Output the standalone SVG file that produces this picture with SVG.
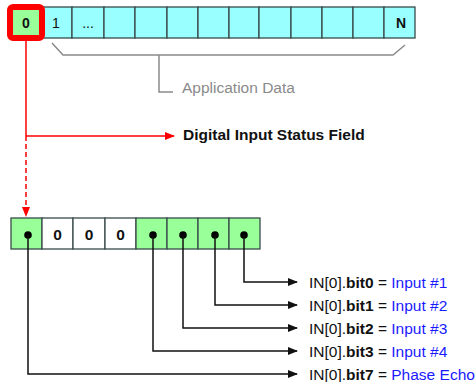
<svg xmlns="http://www.w3.org/2000/svg" width="475" height="382" viewBox="0 0 475 382">
<style>
.cell{stroke:#3a4a4a;stroke-width:1.3}
.cy{fill:#99ffff}
.gr{fill:#99ff99}
.wh{fill:#ffffff}
.t{font-family:"Liberation Sans",Arial,sans-serif;font-size:15.5px;fill:#111}
.s{font-size:14px}
.b{font-weight:bold}
.blue{fill:#1a1aff}
.wire{fill:none;stroke:#111;stroke-width:1.5}
.red{fill:none;stroke:#ff0000;stroke-width:1.5}
.grey{fill:none;stroke:#8a8a8a;stroke-width:1.5}
</style>
<defs>
<marker id="ab" markerWidth="10" markerHeight="8" refX="9" refY="4" orient="auto" markerUnits="userSpaceOnUse">
<path d="M0,0 L10,4 L0,8 Z" fill="#111"/>
</marker>
<marker id="ar" markerWidth="10" markerHeight="8" refX="9" refY="4" orient="auto" markerUnits="userSpaceOnUse">
<path d="M0,0 L10,4 L0,8 Z" fill="#ff0000"/>
</marker>
</defs>

<g id="app-data-row">
<rect class="cell cy" x="41" y="7" width="31" height="31"/>
<rect class="cell cy" x="72" y="7" width="32" height="31"/>
<rect class="cell cy" x="104" y="7" width="31" height="31"/>
<rect class="cell cy" x="135" y="7" width="32" height="31"/>
<rect class="cell cy" x="167" y="7" width="31" height="31"/>
<rect class="cell cy" x="198" y="7" width="31" height="31"/>
<rect class="cell cy" x="229" y="7" width="30" height="31"/>
<rect class="cell cy" x="259" y="7" width="32" height="31"/>
<rect class="cell cy" x="291" y="7" width="31" height="31"/>
<rect class="cell cy" x="322" y="7" width="31" height="31"/>
<rect class="cell cy" x="353" y="7" width="31" height="31"/>
<rect class="cell cy" x="384" y="7" width="31" height="31"/>
<text class="t s" x="56" y="28" text-anchor="middle">1</text>
<text class="t s" x="88" y="28" text-anchor="middle">...</text>
<text class="t s b" x="401" y="28" text-anchor="middle">N</text>
</g>

<g id="byte0">
<rect class="cell gr" x="10" y="7" width="31" height="31"/>
<rect x="10" y="7" width="32" height="31" rx="3" fill="none" stroke="#ff0000" stroke-width="6"/>
<text class="t s b" x="26" y="28" text-anchor="middle">0</text>
</g>

<g id="app-data-label">
<path class="grey" d="M52,43 L63,55 L393,55 L405,45"/>
<path class="grey" d="M159,55 L159,92 L173,92"/>
<text class="t" x="182" y="93" style="fill:#8a8a8a">Application Data</text>
</g>

<g id="status-label">
<text class="t b" x="183" y="140">Digital Input Status Field</text>
</g>

<g id="status-byte">
<rect class="cell gr" x="11" y="218" width="31" height="31"/>
<rect class="cell wh" x="42" y="218" width="31" height="31"/>
<rect class="cell wh" x="73" y="218" width="32" height="31"/>
<rect class="cell wh" x="105" y="218" width="31" height="31"/>
<rect class="cell gr" x="136" y="218" width="31" height="31"/>
<rect class="cell gr" x="167" y="218" width="31" height="31"/>
<rect class="cell gr" x="198" y="218" width="31" height="31"/>
<rect class="cell gr" x="229" y="218" width="31" height="31"/>
<text class="t b" x="57.5" y="239.5" text-anchor="middle">0</text>
<text class="t b" x="89" y="239.5" text-anchor="middle">0</text>
<text class="t b" x="120.5" y="239.5" text-anchor="middle">0</text>
<circle cx="28" cy="235" r="3.8" fill="#000"/>
<circle cx="153" cy="235" r="3.8" fill="#000"/>
<circle cx="183" cy="235" r="3.8" fill="#000"/>
<circle cx="215" cy="235" r="3.8" fill="#000"/>
<circle cx="244" cy="235" r="3.8" fill="#000"/>
</g>

<g id="connectors">
<path class="red" d="M26,41 L26,136"/>
<path class="red" d="M26,136 L174,136" marker-end="url(#ar)"/>
<path class="red" d="M26,136 L26,216" stroke-dasharray="5,3" marker-end="url(#ar)"/>
<path class="wire" d="M244,235 L244,282 L297,282" marker-end="url(#ab)"/>
<path class="wire" d="M215,235 L215,305 L297,305" marker-end="url(#ab)"/>
<path class="wire" d="M183,235 L183,328 L297,328" marker-end="url(#ab)"/>
<path class="wire" d="M153,235 L153,351 L297,351" marker-end="url(#ab)"/>
<path class="wire" d="M28,235 L28,374 L297,374" marker-end="url(#ab)"/>
</g>

<g id="bit-labels">
<text class="t" x="309" y="288">IN[0].<tspan class="b">bit0</tspan> = <tspan class="blue">Input #1</tspan></text>
<text class="t" x="309" y="311">IN[0].<tspan class="b">bit1</tspan> = <tspan class="blue">Input #2</tspan></text>
<text class="t" x="309" y="334">IN[0].<tspan class="b">bit2</tspan> = <tspan class="blue">Input #3</tspan></text>
<text class="t" x="309" y="357">IN[0].<tspan class="b">bit3</tspan> = <tspan class="blue">Input #4</tspan></text>
<text class="t" x="309" y="380">IN[0].<tspan class="b">bit7</tspan> = <tspan class="blue">Phase Echo</tspan></text>
</g>
</svg>
